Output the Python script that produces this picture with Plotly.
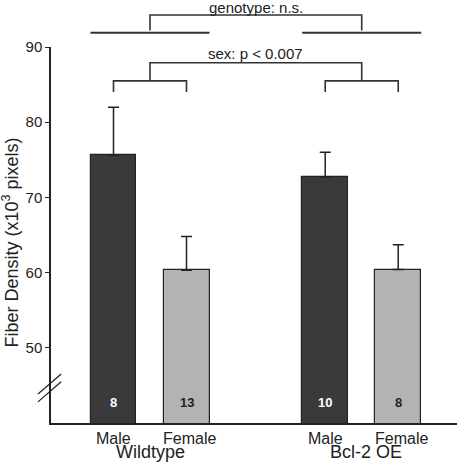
import plotly.graph_objects as go

# ---- data ----
groups = ["Wildtype", "Bcl-2 OE"]
sexes = ["Male", "Female"]
means = [[75.6, 60.3], [72.7, 60.4]]      # per group: male, female
sems = [[6.4, 4.5], [3.3, 3.3]]
counts = [[8, 13], [10, 8]]
y_ticks = [50, 60, 70, 80, 90]
genotype_text = "genotype: n.s."
sex_text = "sex: p < 0.007"
y_title = "Fiber Density (x10<sup>3</sup> pixels)"

# ---- layout constants ----
GROUP_GAP = 2.9
BAR_W = 0.63
YMIN, YMAX = 40, 90
XMIN, XMAX = -0.856, 4.705
FONT = "Liberation Sans, Arial, sans-serif"
INK = "#222222"
bar_colors = ["#3a3a3a", "#b3b3b3"]
num_colors = ["white", INK]


def py(v):
    return (v - YMIN) / (YMAX - YMIN)


fig = go.Figure()
pos = {}
for si, sex in enumerate(sexes):
    xs = [gi * GROUP_GAP + si for gi in range(len(groups))]
    for gi in range(len(groups)):
        pos[(gi, si)] = xs[gi]
    fig.add_trace(go.Bar(
        x=xs, y=[means[gi][si] for gi in range(len(groups))],
        width=BAR_W, marker=dict(color=bar_colors[si], line=dict(color=INK, width=1.2)),
        error_y=dict(type="data", symmetric=False,
                     array=[sems[gi][si] for gi in range(len(groups))],
                     arrayminus=[0] * len(groups),
                     color=INK, thickness=1.5, width=5.5),
        showlegend=False, hoverinfo="skip",
    ))

annotations = []
shapes = []
line_style = dict(color="#333333", width=1.6)

# count labels and category labels
for gi, g in enumerate(groups):
    for si, s in enumerate(sexes):
        x = pos[(gi, si)]
        annotations.append(dict(x=x, y=42.7, xref="x", yref="y", text=f"<b>{counts[gi][si]}</b>",
                                showarrow=False, font=dict(family=FONT, size=13, color=num_colors[si])))
        annotations.append(dict(x=x + (0.04 if si == 1 else 0), y=0, xref="x", yref="paper", text=s,
                                showarrow=False, yanchor="middle", yshift=-15,
                                font=dict(family=FONT, size=16, color=INK)))
    gc = (pos[(gi, 0)] + pos[(gi, 1)]) / 2
    annotations.append(dict(x=gc + (0.06 if gi == 1 else 0), y=0, xref="x", yref="paper", text=g,
                            showarrow=False, yanchor="bottom", yshift=-41,
                            font=dict(family=FONT, size=18, color=INK)))

# genotype comparison: horizontal lines under each group and a bracket above
centers = []
for gi in range(len(groups)):
    x0 = pos[(gi, 0)] - BAR_W / 2
    x1 = pos[(gi, 1)] + BAR_W / 2
    shapes.append(dict(type="line", xref="x", yref="paper", x0=x0, x1=x1, y0=py(91.9), y1=py(91.9),
                       line=dict(color="#333333", width=2)))
    centers.append((pos[(gi, 0)] + pos[(gi, 1)]) / 2)
shapes.append(dict(type="path", xref="x", yref="paper",
                   path=f"M{centers[0]},{py(92.2)} L{centers[0]},{py(94.25)} L{centers[1]},{py(94.25)} L{centers[1]},{py(92.2)}",
                   line=line_style))
annotations.append(dict(x=(centers[0] + centers[1]) / 2, y=py(95.3), xref="x", yref="paper",
                        text=genotype_text, showarrow=False, yanchor="middle",
                        font=dict(family=FONT, size=15, color=INK)))

# sex comparison: sub-brackets per group and a bracket joining them
for gi in range(len(groups)):
    a, b = pos[(gi, 0)], pos[(gi, 1)]
    shapes.append(dict(type="path", xref="x", yref="paper",
                       path=f"M{a},{py(84.0)} L{a},{py(85.5)} L{b},{py(85.5)} L{b},{py(84.0)}",
                       line=line_style))
shapes.append(dict(type="path", xref="x", yref="paper",
                   path=f"M{centers[0]},{py(85.5)} L{centers[0]},{py(87.9)} L{centers[1]},{py(87.9)} L{centers[1]},{py(85.5)}",
                   line=line_style))
annotations.append(dict(x=(centers[0] + centers[1]) / 2, y=py(89.1), xref="x", yref="paper",
                        text=sex_text, showarrow=False, yanchor="middle",
                        font=dict(family=FONT, size=15, color=INK)))

# axis break marks
for dy in (0.0, -0.021):
    shapes.append(dict(type="line", xref="paper", yref="paper",
                       x0=-0.032, y0=py(43.86) + dy, x1=0.025, y1=py(46.52) + dy,
                       line=dict(color=INK, width=1.3)))

# y-axis title
annotations.append(dict(x=-0.0985, y=py(64.0), xref="paper", yref="paper", text=y_title,
                        textangle=-90, showarrow=False, xanchor="center", yanchor="middle",
                        font=dict(family=FONT, size=18, color=INK)))

fig.update_layout(
    width=457, height=464,
    margin=dict(l=51, r=0, t=47, b=41),
    plot_bgcolor="white", paper_bgcolor="white",
    bargap=0,
    shapes=shapes, annotations=annotations,
    font=dict(family=FONT, color=INK),
    xaxis=dict(range=[XMIN, XMAX], showline=True, linecolor=INK, linewidth=1.5,
               showticklabels=False, ticks="", showgrid=False, zeroline=False),
    yaxis=dict(range=[YMIN, YMAX], showline=True, linecolor=INK, linewidth=1.5,
               tickvals=y_ticks, ticks="outside", ticklen=4, tickwidth=1.2, tickcolor=INK,
               tickfont=dict(family=FONT, size=15, color=INK),
               showgrid=False, zeroline=False),
)

fig.write_html("out.html", config={"displayModeBar": False},
               post_script="document.body.style.margin='0';document.body.style.padding='0';document.body.style.overflow='hidden';")
